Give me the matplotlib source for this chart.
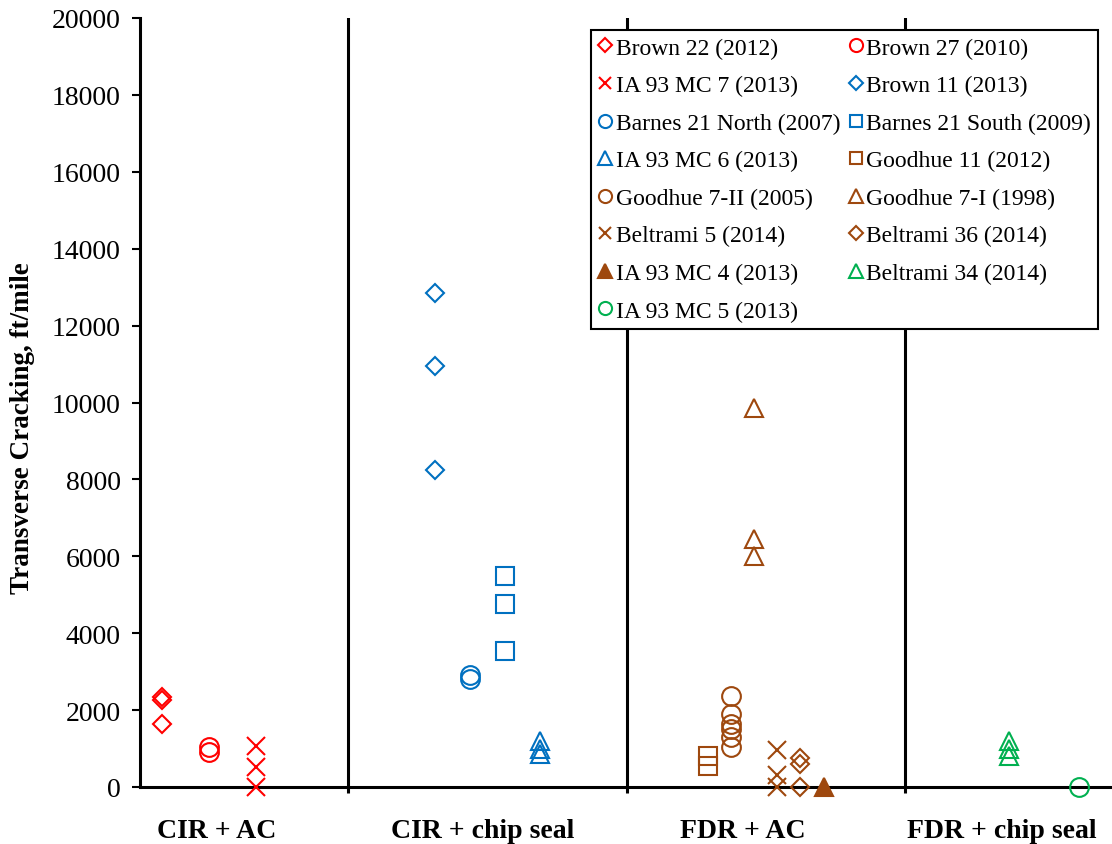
import matplotlib.pyplot as plt

plt.rcParams['font.family'] = ['Liberation Serif', 'DejaVu Serif']

# Pavement groups along the x axis
groups = ['CIR + AC', 'CIR + chip seal', 'FDR + AC', 'FDR + chip seal']

# Test sections and their transverse cracking readings (ft/mile)
names = ['Brown 22 (2012)', 'Brown 27 (2010)', 'IA 93 MC 7 (2013)',
         'Brown 11 (2013)', 'Barnes 21 North (2007)', 'Barnes 21 South (2009)',
         'IA 93 MC 6 (2013)', 'Goodhue 11 (2012)', 'Goodhue 7-II (2005)',
         'Goodhue 7-I (1998)', 'Beltrami 5 (2014)', 'Beltrami 36 (2014)',
         'IA 93 MC 4 (2013)', 'Beltrami 34 (2014)', 'IA 93 MC 5 (2013)']
cracking = [
    [2350, 2250, 1650],
    [1050, 900],
    [1075, 525, 0],
    [12850, 10950, 8250],
    [2900, 2800],
    [5500, 4750, 3550],
    [1200, 1000, 850],
    [800, 550],
    [2375, 1900, 1650, 1500, 1300, 1050],
    [9850, 6450, 6000],
    [950, 300, 0],
    [750, 600, 0],
    [0],
    [1200, 1000, 800],
    [0],
]
group_of = [0, 0, 0, 1, 1, 1, 1, 2, 2, 2, 2, 2, 2, 3, 3]
yticks = [0, 2000, 4000, 6000, 8000, 10000, 12000, 14000, 16000, 18000, 20000]

# Layout (x axis runs 0..100)
xpos = [2.3, 7.1, 11.9, 30.4, 34.0, 37.6, 41.2,
        58.4, 60.8, 63.2, 65.5, 67.9, 70.4, 89.4, 96.6]
dividers = [21.4, 50.1, 78.7]
label_x = [7.9, 35.3, 62.0, 88.7]

# Styles
group_colors = ['#FF0000', '#0070C0', '#9E480E', '#00B050']
markers = ['D', 'o', 'x', 'D', 'o', 's', '^', 's', 'o', '^', 'x', 'D', '^', '^', 'o']
msize = {'D': 9.5, 'o': 13.5, 'x': 13, 's': 13, '^': 13.5}

fig = plt.figure(figsize=(11.12, 8.45), dpi=100)
ax = fig.add_axes([140 / 1112, 57 / 845, 972 / 1112, 769 / 845])

handles = []
for i, name in enumerate(names):
    c = group_colors[group_of[i]]
    m = markers[i]
    face = c if name == 'IA 93 MC 4 (2013)' else 'none'
    h, = ax.plot([xpos[i]] * len(cracking[i]), cracking[i], linestyle='none',
                 marker=m, ms=msize[m], mec=c, mfc=face, mew=1.5,
                 clip_on=False, label=name, zorder=3)
    handles.append(h)

for d in dividers:
    ax.axvline(d, color='black', lw=2.2, zorder=2)

ax.set_xlim(0, 100)
ax.set_ylim(0, 20000)
ax.set_yticks(yticks)
ax.set_xticks(dividers)
ax.set_xticklabels([])
ax.tick_params(axis='y', labelsize=20, length=6, width=1.5, direction='out', pad=8)
ax.tick_params(axis='x', length=4, width=2.2, direction='out')
for s in ['top', 'right']:
    ax.spines[s].set_visible(False)
for s in ['left', 'bottom']:
    ax.spines[s].set_linewidth(2.2)

for lx, g in zip(label_x, groups):
    ax.text(lx, -0.057, g, transform=ax.get_xaxis_transform(),
            ha='center', va='center', fontsize=20, fontweight='bold')

ax.set_ylabel('Transverse Cracking, ft/mile', fontsize=19.5, fontweight='bold')
ax.yaxis.set_label_coords(-0.108, 0.468)

# row-wise legend order in two columns
order = handles[0::2] + handles[1::2]
leg = ax.legend(order, [h.get_label() for h in order], ncol=2,
                loc='upper right', bbox_to_anchor=(0.9856, 0.9844),
                borderaxespad=0, fontsize=17, markerscale=0.7,
                handlelength=0.6, handletextpad=0.15, columnspacing=0.35,
                labelspacing=0.68, borderpad=0.3, fancybox=False,
                edgecolor='black', framealpha=1)
leg.get_frame().set_linewidth(1.5)

fig.savefig('out.png', dpi=100)
